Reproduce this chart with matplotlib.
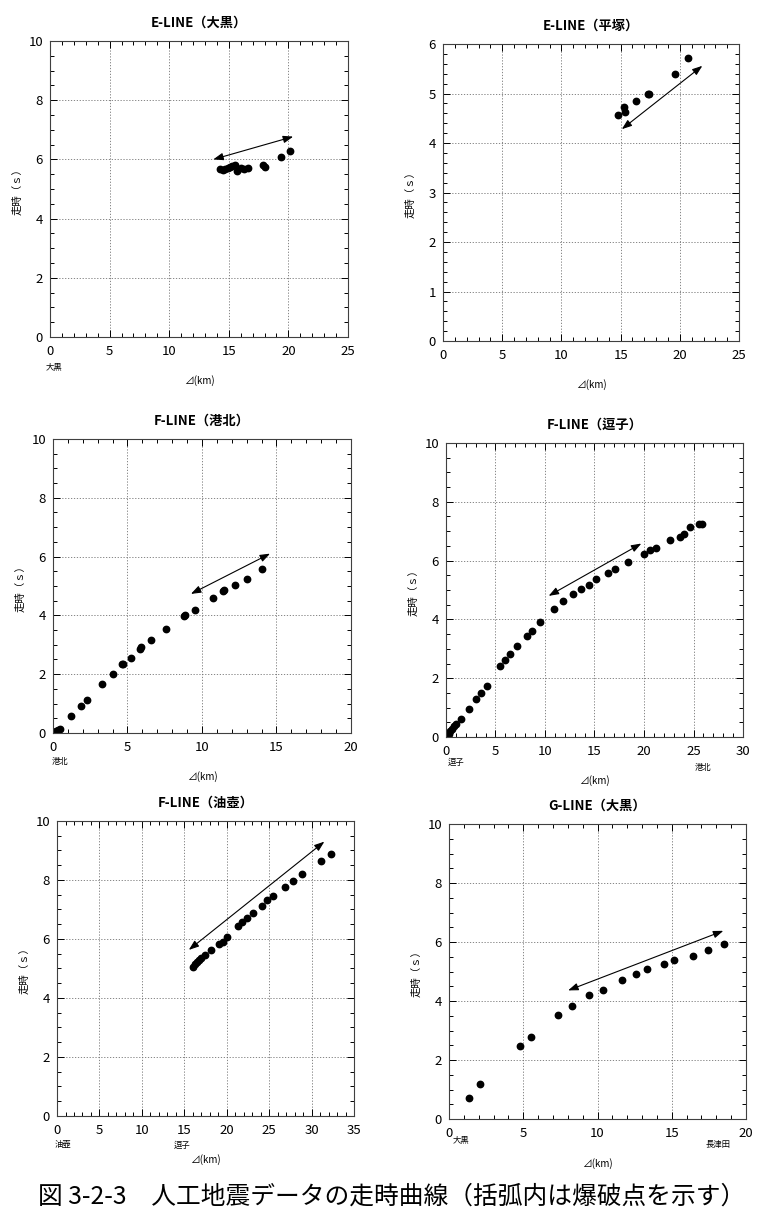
import numpy as np
import matplotlib.pyplot as plt
from matplotlib.ticker import MultipleLocator

plt.rcParams['font.family'] = ['Noto Sans CJK JP', 'DejaVu Sans']

# ---------------------------------------------
# データ
# ---------------------------------------------
# E-LINE（大黒）
e1_x = [14.3, 14.5, 14.7, 14.9, 15.1, 15.3, 15.5, 15.7, 16.0, 16.3, 16.6, 17.9, 18.0, 19.4, 20.1]
e1_y = [5.68, 5.65, 5.67, 5.70, 5.75, 5.78, 5.80, 5.62, 5.70, 5.68, 5.70, 5.80, 5.76, 6.08, 6.30]
e1_arrow = [(13.7, 6.0), (20.4, 6.77)]

# E-LINE（平塚）
e2_x = [14.8, 15.3, 15.4, 16.3, 17.3, 17.4, 19.6, 20.7]
e2_y = [4.56, 4.73, 4.62, 4.85, 4.99, 4.99, 5.40, 5.72]
e2_arrow = [(15.1, 4.28), (21.9, 5.56)]

# F-LINE（港北）
f1_x = [0.1, 0.2, 0.35, 0.45, 1.19, 1.86, 2.29, 3.27, 4.04, 4.64, 4.73, 5.22, 5.85, 5.90,
        6.55, 7.56, 8.81, 8.86, 9.55, 10.74, 11.43, 11.48, 12.24, 13.05, 14.04]
f1_y = [0.02, 0.07, 0.11, 0.15, 0.57, 0.91, 1.11, 1.65, 2.00, 2.33, 2.35, 2.56, 2.86, 2.91,
        3.16, 3.53, 3.98, 4.00, 4.18, 4.58, 4.84, 4.86, 5.03, 5.23, 5.57]
f1_arrow = [(9.26, 4.73), (14.57, 6.10)]

# F-LINE（逗子）
f2_x = [0.1, 0.27, 0.44, 0.6, 0.77, 0.98, 1.5, 2.36, 3.06, 3.57, 4.1, 5.49, 5.96, 6.43,
        7.17, 8.15, 8.69, 9.53, 10.88, 11.85, 12.83, 13.6, 14.48, 15.18, 16.4, 17.04,
        18.35, 20.03, 20.64, 21.21, 22.66, 23.67, 24.0, 24.68, 25.59, 25.86]
f2_y = [0.02, 0.11, 0.19, 0.28, 0.36, 0.43, 0.62, 0.96, 1.28, 1.50, 1.73, 2.41, 2.63, 2.82,
        3.10, 3.45, 3.60, 3.90, 4.35, 4.64, 4.86, 5.05, 5.18, 5.37, 5.57, 5.70,
        5.96, 6.24, 6.35, 6.43, 6.69, 6.80, 6.92, 7.13, 7.23, 7.23]
f2_arrow = [(10.37, 4.80), (19.73, 6.58)]

# F-LINE（油壺）
f3_x = [16.04, 16.24, 16.5, 16.75, 16.99, 17.38, 18.13, 19.03, 19.5, 19.98, 21.35, 21.82,
        22.34, 23.08, 24.14, 24.7, 25.48, 26.86, 27.84, 28.82, 31.1, 32.28]
f3_y = [5.06, 5.14, 5.21, 5.29, 5.36, 5.45, 5.62, 5.83, 5.91, 6.06, 6.43, 6.56,
        6.70, 6.88, 7.12, 7.32, 7.47, 7.76, 7.97, 8.21, 8.64, 8.89]
f3_arrow = [(15.53, 5.63), (31.5, 9.30)]

# G-LINE（大黒）
g1_x = [1.35, 2.11, 4.79, 5.5, 7.37, 8.29, 9.44, 10.4, 11.62, 12.58, 13.33, 14.49, 15.12,
        16.45, 17.46, 18.54]
g1_y = [0.70, 1.20, 2.46, 2.78, 3.53, 3.84, 4.21, 4.38, 4.72, 4.93, 5.07, 5.25, 5.40,
        5.54, 5.74, 5.92]
g1_arrow = [(8.02, 4.36), (18.47, 6.38)]

titles = ['E-LINE（大黒）', 'E-LINE（平塚）', 'F-LINE（港北）',
          'F-LINE（逗子）', 'F-LINE（油壺）', 'G-LINE（大黒）']
xmax = [25, 25, 20, 30, 35, 20]
ymax = [10, 6, 10, 10, 10, 10]
# 爆破点などの地名ラベル (km, 下方向オフセット px)
stations = [
    [('大黒', 0.3, 30)],
    [],
    [('港北', 0.5, 29)],
    [('逗子', 1.0, 25), ('港北', 26.0, 30)],
    [('油壺', 0.7, 29), ('逗子', 14.7, 29)],
    [('大黒', 0.8, 21), ('長津田', 18.1, 25)],
]

xs = [e1_x, e2_x, f1_x, f2_x, f3_x, g1_x]
ys = [e1_y, e2_y, f1_y, f2_y, f3_y, g1_y]
arrows = [e1_arrow, e2_arrow, f1_arrow, f2_arrow, f3_arrow, g1_arrow]

# 各グラフの位置 [left, bottom, width, height]
rects = [
    [0.0642, 0.7231, 0.3825, 0.2432],
    [0.5687, 0.7198, 0.3800, 0.2440],
    [0.0680, 0.3977, 0.3825, 0.2416],
    [0.5725, 0.3944, 0.3813, 0.2416],
    [0.0732, 0.0830, 0.3813, 0.2424],
    [0.5764, 0.0805, 0.3813, 0.2424],
]

fig = plt.figure(figsize=(7.79, 12.17), dpi=100)

for i in range(6):
    ax = fig.add_axes(rects[i])
    ax.plot(xs[i], ys[i], 'o', color='black', ms=4.6, mec='black')

    (x0, y0), (x1, y1) = arrows[i]
    ax.annotate('', xy=(x1, y1), xytext=(x0, y0),
                arrowprops=dict(arrowstyle='<|-|>,head_length=0.6,head_width=0.22',
                                color='black', lw=0.8, shrinkA=0, shrinkB=0))

    ax.set_xlim(0, xmax[i])
    ax.set_ylim(0, ymax[i])
    ax.xaxis.set_major_locator(MultipleLocator(5))
    ax.xaxis.set_minor_locator(MultipleLocator(1))
    if ymax[i] == 6:
        ax.yaxis.set_major_locator(MultipleLocator(1))
        ax.yaxis.set_minor_locator(MultipleLocator(0.2))
    else:
        ax.yaxis.set_major_locator(MultipleLocator(2))
        ax.yaxis.set_minor_locator(MultipleLocator(0.5))

    ax.tick_params(which='both', direction='in', top=True, right=True, width=0.7)
    ax.tick_params(which='major', length=5, labelsize=9.5, pad=5)
    ax.tick_params(which='minor', length=3)
    ax.tick_params(axis='x', pad=6)
    for s in ax.spines.values():
        s.set_linewidth(0.8)
        s.set_color('0.25')
    ax.grid(True, which='major', linestyle=(0, (1.5, 2)), color='0.45', lw=0.6)

    ax.annotate(titles[i], xy=(0.5, 1), xycoords='axes fraction', xytext=(0, 18),
                textcoords='offset pixels', ha='center', va='center',
                fontsize=9.5, fontweight='bold')
    ax.annotate('走時（ｓ）', xy=(0, 0.5), xycoords='axes fraction', xytext=(-33, 0),
                textcoords='offset pixels', ha='center', va='center',
                fontsize=7.5, rotation=90)
    ax.annotate('⊿(km)', xy=(0.5, 0), xycoords='axes fraction', xytext=(0, -44),
                textcoords='offset pixels', ha='center', va='center', fontsize=7)
    for name, km, off in stations[i]:
        ax.annotate(name, xy=(km, 0), xycoords=('data', 'axes fraction'),
                    xytext=(0, -off), textcoords='offset pixels',
                    ha='center', va='center', fontsize=6)

fig.text(0.5025, 1 - 1197 / 1217, '図 3-2-3　人工地震データの走時曲線（括弧内は爆破点を示す）',
         ha='center', va='center', fontsize=17.8)

fig.savefig('out.png', dpi=100)
